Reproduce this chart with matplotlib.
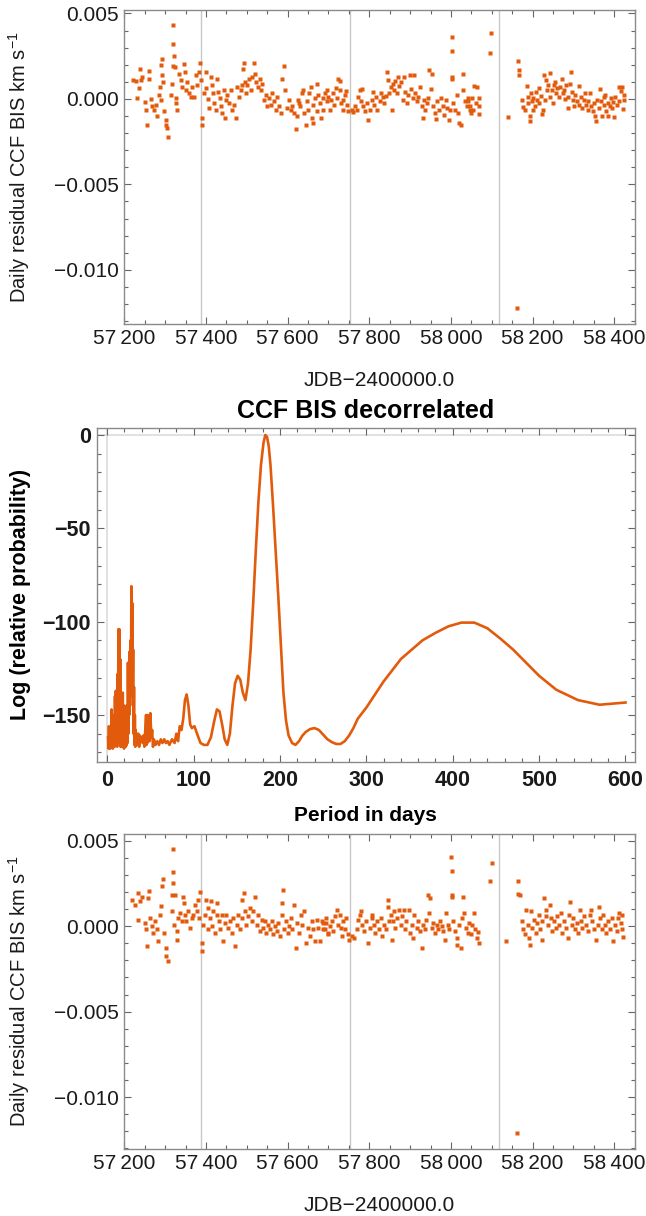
import numpy as np
import matplotlib
matplotlib.use('Agg')
import matplotlib.pyplot as plt
from matplotlib.ticker import MultipleLocator, FixedLocator, FuncFormatter

plt.rcParams['font.family'] = ['Liberation Sans', 'DejaVu Sans']
plt.rcParams['mathtext.default'] = 'regular'

ORANGE = '#E25B0C'

# yearly reference lines (JDB-2400000)
year_marks = [57387, 57752, 58117]

# top panel: daily residual CCF BIS (day, value in 1e-3 km/s)
top_pts = [
    (57221, 1.13), (57228, 1.06), (57237, 1.77), (57240, 1.13), (57236, 0.62), (57232, 0.04),
    (57242, 1.29), (57260, 1.63), (57260, 1.17), (57250, -0.21), (57252, -0.63), (57256, -1.5),
    (57264, -0.02), (57267, -0.44), (57272, -0.63), (57277, -0.35), (57281, -1.02), (57285, 0.23),
    (57289, -0.06), (57286, 0.71), (57289, 1.96), (57293, 2.35), (57291, 1.38), (57295, 1.0),
    (57297, -0.73), (57301, -1.21), (57305, -1.69), (57308, -2.21), (57303, -1.5), (57320, 4.33),
    (57320, 3.21), (57321, 2.5), (57319, 1.9), (57324, 1.87), (57313, 0.23), (57317, 0.9),
    (57326, 0.04), (57327, -0.25), (57330, -0.63), (57334, 1.48), (57338, 1.1), (57342, 0.71),
    (57346, 2.06), (57348, 1.58), (57350, 0.52), (57354, 1.0), (57358, 0.33), (57362, 0.1),
    (57366, 0.71), (57370, 0.13), (57375, 1.38), (57379, 0.81), (57384, 2.1), (57383, 1.58),
    (57387, 1.1), (57391, -1.12), (57391, -1.5), (57395, 0.33), (57399, 1.58), (57401, 0.62),
    (57406, -0.02), (57407, -0.54), (57411, 1.29), (57414, 0.81), (57417, 0.33), (57420, -0.25),
    (57424, -0.63), (57428, 1.19), (57430, 0.42), (57433, 0.04), (57436, -0.44), (57440, -0.83),
    (57444, 0.52), (57446, -1.12), (57448, -0.06), (57452, 0.23), (57456, -0.25), (57460, 0.52),
    (57464, -0.63), (57469, -0.35), (57473, -1.12), (57477, 0.71), (57481, 0.13), (57485, 0.52),
    (57489, 0.81), (57491, 1.77), (57493, 2.1), (57495, 1.0), (57499, 0.33), (57501, 0.81),
    (57505, 1.19), (57509, 0.52), (57513, 1.29), (57518, 2.1), (57520, 1.48), (57523, 1.0),
    (57528, 0.71), (57531, 1.19), (57534, 0.52), (57538, 0.9), (57542, -0.06), (57546, 0.23),
    (57550, -0.44), (57554, 0.04), (57558, -0.35), (57562, 0.33), (57567, -0.15), (57571, -0.63),
    (57575, 0.13), (57579, -0.44), (57583, -0.83), (57587, 1.19), (57591, 1.9), (57594, 0.52),
    (57599, -0.54), (57603, -0.06), (57607, -0.63), (57611, -0.44), (57616, -0.83), (57620, -1.79),
    (57624, -1.02), (57628, -0.25),
    (57626, -0.06), (57630, -0.44), (57634, 0.33), (57638, 0.52), (57640, -0.83), (57645, -1.5),
    (57647, -0.15), (57651, -0.63), (57653, 0.37), (57656, 0.67), (57659, -1.12), (57661, -1.4),
    (57663, -0.35), (57667, 0.04), (57671, 0.9), (57673, -0.73), (57675, 0.23), (57679, -0.25),
    (57681, -1.12), (57686, 0.04), (57687, -0.63), (57691, 0.33), (57696, -0.15), (57697, 0.52),
    (57700, 0.13), (57704, -0.63), (57706, -0.06), (57710, 0.33), (57714, -0.35), (57718, 0.62),
    (57720, 0.04), (57724, 1.15), (57728, 1.06), (57727, 0.52), (57731, -0.25), (57735, -0.63),
    (57736, -0.06), (57740, 0.23), (57743, 0.48), (57745, -0.35), (57749, -0.73), (57757, -0.63),
    (57761, -0.79), (57765, -0.44), (57769, -0.63), (57773, 0.13), (57776, 0.52), (57779, -0.15),
    (57782, 0.56), (57785, -0.44), (57789, -0.73), (57794, -0.25), (57798, -1.21), (57802, -0.63),
    (57806, -0.06), (57810, 0.42), (57812, -0.35), (57816, 0.13), (57820, -0.63), (57825, -0.15),
    (57828, 0.33), (57833, 0.13), (57836, -0.25), (57841, 0.17), (57844, 1.58), (57847, 1.1),
    (57849, 0.37), (57852, 0.71), (57855, -0.63), (57857, 0.87), (57861, 0.52), (57863, 1.06),
    (57867, 0.33), (57871, 1.29), (57874, 0.75), (57877, 1.0), (57882, -0.06), (57885, 1.29),
    (57888, 0.42), (57892, -0.25), (57896, 0.23), (57900, 1.38), (57902, 0.56), (57906, 0.04),
    (57910, 1.38), (57912, 0.37), (57916, -0.15), (57920, 0.13), (57924, 0.67), (57928, -0.44),
    (57931, -1.12), (57934, -0.06), (57937, -0.63), (57941, -0.25), (57945, 0.04), (57947, 1.67),
    (57950, 0.56), (57953, 1.48), (57957, -0.44), (57961, -0.83), (57964, -1.17), (57967, -0.15),
    (57972, -0.63), (57975, 0.04), (57980, -0.44), (57983, -0.92), (57988, -0.06), (57991, -0.54),
    (57995, -1.21), (57998, -0.63), (58002, 3.63), (58002, 2.79), (58002, 1.29), (58002, 1.19),
    (58006, -0.25), (58010, -0.63), (58014, 0.23), (58018, -0.83), (58021, -1.4), (58024, -1.5),
    (58029, 1.48), (58030, 0.52), (58035, -0.15), (58039, -0.44), (58043, 0.04), (58047, -0.63),
    (58043, -0.15), (58047, -0.44), (58049, -0.83), (58051, 0.04), (58055, -0.63), (58057, 0.75),
    (58064, 0.67), (58068, 0.04), (58070, -0.44), (58068, -0.87), (58062, -0.25),
    (58098, 3.83), (58095, 2.71), (58139, -1.08), (58161, -12.21),
    (58164, 2.19), (58166, 1.67), (58167, 1.37), (58174, -0.06), (58176, -0.48), (58182, -0.63),
    (58186, 0.75), (58188, 0.1), (58190, -0.25), (58193, -1.02), (58194, -1.31), (58196, 0.33),
    (58198, -0.15), (58201, -0.63), (58202, 0.04), (58206, -0.44), (58209, 0.42), (58212, -0.06),
    (58215, -0.25), (58217, 0.62), (58220, 0.17), (58223, -0.87), (58225, -0.63), (58229, 1.38),
    (58231, -0.06), (58233, 1.1), (58235, 0.52), (58239, 0.81), (58242, 1.52), (58243, 0.13),
    (58247, 0.52), (58250, -0.25), (58253, 0.81), (58256, 1.0), (58258, 0.37), (58261, 0.62),
    (58264, 0.1), (58268, 0.71), (58272, 1.19), (58274, 0.33), (58276, 0.52), (58280, -0.02),
    (58282, 0.81), (58286, -0.54), (58288, 0.13), (58292, 0.87), (58295, 1.58), (58297, 0.42),
    (58300, -0.06), (58302, -0.44), (58305, 0.23), (58309, -0.15), (58313, -0.35), (58315, 0.75),
    (58318, 0.1), (58321, -0.54), (58325, -0.06), (58329, 0.33), (58331, -0.35), (58335, -0.63),
    (58337, -0.15), (58341, 0.33), (58343, -0.44), (58348, -0.73), (58351, -0.25), (58354, -1.02),
    (58356, -1.31), (58359, -0.06), (58363, -0.54), (58366, 0.56), (58368, -0.15), (58370, -1.02),
    (58374, 0.13), (58376, -0.35), (58378, 0.23), (58380, -0.73), (58384, -0.25), (58386, -1.02),
    (58389, -0.44), (58392, 0.04), (58394, -0.54), (58398, -0.21), (58400, -1.06), (58403, 0.13),
    (58407, -0.35), (58411, -0.1), (58413, 0.71), (58416, 0.48), (58419, 0.67), (58421, -0.6),
    (58423, -0.06), (58423, 0.23),
]

# bottom panel: same after decorrelation (day, value in 1e-3 km/s)
bot_pts = [
    (57219, 1.55), (57226, 1.26), (57234, 1.94), (57238, 1.45), (57234, 0.39), (57242, 1.74),
    (57260, 2.07), (57258, 1.65), (57250, 0.19), (57254, -0.19), (57256, -1.16), (57263, 0.48),
    (57267, 0.0), (57271, -0.39), (57275, 0.29), (57279, -0.19), (57283, -0.87), (57287, 0.68),
    (57290, 1.16), (57293, 2.33), (57295, 2.77), (57298, -0.39), (57301, -1.26), (57303, -1.74),
    (57306, -2.03), (57320, 4.52), (57320, 3.16), (57320, 2.52), (57317, 1.84), (57324, 1.84),
    (57316, 0.87), (57322, 0.1), (57328, -0.29), (57330, -0.78), (57332, 0.48), (57336, 0.78),
    (57340, 0.29), (57344, 1.74), (57347, 1.36), (57348, 0.68), (57352, 0.29), (57356, 0.87),
    (57361, -0.1), (57365, 0.48), (57369, 0.68), (57373, 1.26), (57377, 0.87), (57381, 1.55),
    (57385, 2.03), (57383, 0.48), (57389, -0.97), (57391, -1.45), (57393, 0.1), (57397, 0.68),
    (57399, 1.55), (57404, -0.19), (57406, 1.07), (57410, 0.48), (57412, 1.45), (57415, 0.0),
    (57418, 0.87), (57422, -0.39), (57426, 0.68), (57428, 1.36), (57432, 0.29), (57434, -0.19),
    (57438, 0.68), (57442, -0.87), (57446, 0.19), (57450, 0.68), (57455, -0.1), (57459, 0.29),
    (57463, -0.39), (57467, 0.48), (57471, -1.16), (57475, 0.1), (57479, 0.68), (57483, -0.19),
    (57487, 0.48), (57489, 1.55), (57494, 1.94), (57495, 0.87), (57499, 0.1), (57504, 0.58),
    (57508, 1.07), (57512, 0.29), (57516, 0.87), (57520, 1.74), (57524, 0.1), (57528, 0.68),
    (57532, -0.29), (57536, 0.39), (57540, -0.1), (57544, 0.29), (57548, -0.39), (57553, 0.1),
    (57557, -0.19), (57561, 0.29), (57565, -0.48), (57569, 0.0), (57573, -0.29), (57577, 0.19),
    (57581, -0.58), (57585, 1.36), (57589, 2.13), (57587, 0.68), (57592, -0.19), (57595, 0.29),
    (57600, -0.39), (57603, 0.0), (57608, 0.48), (57611, -0.19), (57616, 1.26), (57620, -1.26),
    (57624, 0.19), (57628, -0.39), (57633, 0.68), (57636, 0.1), (57641, 0.87), (57644, -0.97),
    (57649, -0.1), (57655, -0.58), (57659, 0.29), (57663, -0.19), (57667, -0.87), (57671, 0.39),
    (57675, -0.1), (57679, -0.87), (57683, 0.29), (57687, -0.19), (57693, 0.19), (57700, -0.39),
    (57687, 0.19), (57691, -0.19), (57695, 0.48), (57699, -0.48), (57703, 0.0), (57708, 0.29),
    (57712, -0.29), (57717, 0.58), (57722, 0.97), (57724, 0.1), (57728, 0.68), (57730, -0.1),
    (57734, -0.58), (57736, 0.29), (57740, -0.19), (57742, 0.48), (57747, -0.48), (57750, -0.78),
    (57758, -0.58), (57763, -0.68), (57769, -0.19), (57773, 0.39), (57777, 0.68), (57779, 0.87),
    (57783, 0.1), (57788, -0.29), (57793, 0.29), (57797, -0.97), (57801, -0.1), (57806, 0.48),
    (57807, 0.68), (57812, 0.1), (57815, -0.39), (57820, 0.29), (57824, -0.19), (57828, 0.48),
    (57832, -0.58), (57837, 0.1), (57840, -0.19), (57845, 1.55), (57846, 1.1), (57848, 0.29),
    (57853, 0.68), (57855, -0.78), (57859, 0.29), (57861, 0.87), (57864, -0.1), (57869, 0.48),
    (57873, 0.97), (57877, 0.1), (57881, 0.58), (57886, 0.97), (57887, -0.19), (57891, 0.29),
    (57897, 0.97), (57899, -0.39), (57904, 0.1), (57908, -0.68), (57910, 0.68), (57916, -0.1),
    (57920, 0.29), (57924, -0.29), (57928, -1.26), (57932, 0.1), (57936, -0.19), (57940, 0.39),
    (57944, 1.84), (57949, 1.65), (57946, 0.78), (57953, -0.1), (57957, 0.19), (57961, -0.39),
    (57965, 0.1), (57969, -0.19), (57973, 0.29), (57977, 0.0), (57981, -0.29), (57985, -0.78),
    (57987, 0.78), (57992, 0.1), (57995, -0.19), (58000, 4.07), (58002, 3.24), (58002, 1.84),
    (58003, 1.74), (58006, 0.29), (58010, -0.29), (58014, -0.68), (58016, -1.07), (58020, 0.1),
    (58024, -1.26), (58026, 0.48), (58030, 1.69), (58033, 0.78), (58036, -0.1), (58041, -0.39),
    (58044, 0.19), (58049, -0.48), (58052, 0.1), (58057, 0.78), (58060, -0.19), (58063, -0.68),
    (58067, -0.33), (58069, -0.97), (58096, 2.66), (58100, 3.68), (58136, -0.87), (58161, -12.1),
    (58165, 2.66), (58165, 1.88), (58169, 1.8), (58173, 0.29), (58177, -0.19), (58181, -0.48),
    (58185, 0.97), (58188, 0.1), (58191, -0.68), (58194, -1.07), (58196, 0.87), (58199, -0.1),
    (58204, 0.39), (58208, -0.39), (58212, 0.19), (58216, 0.68), (58218, -0.19), (58222, -0.78),
    (58224, 0.29), (58229, 1.65), (58232, 0.58), (58234, 0.97), (58239, 0.1), (58243, 1.22),
    (58245, 0.48), (58248, -0.29), (58253, 0.29), (58257, -0.1), (58261, 0.58), (58265, 0.1),
    (58270, 0.78), (58273, -0.39), (58278, 0.29), (58281, -0.1), (58286, -0.68), (58289, 0.68),
    (58292, 1.41), (58296, 0.1), (58300, 0.48), (58304, -0.19), (58308, 0.19), (58312, -0.39),
    (58316, 0.97), (58319, 0.29), (58322, -0.1), (58327, 0.58), (58330, 0.1), (58335, -0.29),
    (58341, 0.68), (58343, 0.97), (58346, 0.29), (58351, -0.19), (58355, -0.78), (58360, 0.1),
    (58363, 1.1), (58365, 0.48), (58369, -0.19), (58373, 0.68), (58377, 0.1), (58381, -0.39),
    (58386, 0.29), (58390, -0.19), (58394, 0.48), (58398, -0.87), (58402, 0.1), (58406, -0.29),
    (58410, 0.48), (58413, 0.78), (58417, 0.19), (58418, -0.19), (58420, 0.68), (58422, -0.64),
]

# middle panel: periodogram (period in days, log relative probability)
periodogram = [
    (1, -162), (1.5, -168), (2, -156), (2.5, -167), (3, -160), (3.5, -168), (4, -158), (4.5, -166),
    (5, -147), (5.5, -167), (6, -160), (6.5, -168), (7, -155), (7.5, -166), (8, -150), (8.5, -167),
    (9, -140), (9.5, -165), (10, -137), (10.5, -166), (11, -145), (11.5, -167), (12, -128),
    (12.5, -160), (13, -104), (13.5, -150), (14, -104), (14.5, -165), (15, -120), (15.5, -167),
    (16, -140), (16.5, -166), (17, -150), (17.5, -167), (18, -138), (18.5, -166), (19, -155),
    (19.5, -168), (20, -145), (20.5, -166), (21, -152), (21.5, -167), (22, -158), (22.5, -166),
    (23, -145), (23.5, -165), (24, -122), (24.5, -160), (25, -124), (25.5, -150), (26, -116),
    (26.5, -145), (27, -110), (27.5, -135), (28, -81), (28.5, -120), (29, -90), (29.5, -140),
    (30, -115), (30.5, -160), (31, -135), (31.5, -166), (32, -150), (32.5, -167), (33, -158),
    (33.5, -166), (34, -160), (35, -166), (36, -160), (37, -167), (38, -161), (39, -164),
    (40, -162), (41, -165), (42, -161), (43, -167), (44, -158), (45, -150), (45.5, -166),
    (46, -155), (46.5, -165), (47, -150), (47.5, -162), (48, -151), (49, -164), (50, -149),
    (51, -162), (52, -158), (53, -167), (54, -163), (56, -166), (58, -164), (60, -166), (62, -163),
    (64, -165), (66, -163), (68, -165), (70, -164), (72, -166), (75, -163), (78, -165), (80, -160),
    (82, -164), (84, -156), (86, -158), (88, -152), (90, -142), (92, -139), (94, -145), (96, -155),
    (98, -157), (101, -156), (104, -160), (108, -165), (112, -166), (116, -166), (120, -162),
    (124, -153), (127, -147), (130, -148), (133, -155), (136, -163), (139, -166), (142, -160),
    (145, -145), (148, -133), (151, -129), (154, -131), (157, -138), (160, -142), (163, -133),
    (166, -115), (169, -90), (172, -62), (175, -36), (178, -16), (181, -4), (183, 0), (185, -1),
    (187, -6), (189, -16), (192, -38), (195, -62), (198, -86), (201, -112), (204, -138),
    (207, -153), (210, -161), (214, -165), (218, -166), (222, -164), (226, -161), (230, -159),
    (235, -157.5), (240, -157), (245, -158), (250, -160.5), (255, -163), (260, -164.5),
    (265, -165.5), (270, -165.5), (275, -164), (280, -161), (285, -157), (290, -152), (300, -146),
    (310, -139), (320, -132), (330, -126), (340, -120), (350, -116), (365, -110), (380, -106),
    (395, -102.5), (410, -100.5), (425, -100.5), (440, -103.5), (455, -109), (470, -115),
    (485, -122), (500, -129), (520, -136.5), (545, -142), (570, -144.5), (600, -143.3),
]

W, H = 646, 1216
fig = plt.figure(figsize=(W / 100, H / 100), dpi=100)


def px_axes(left, top, right, bottom):
    return fig.add_axes([left / W, 1 - bottom / H, (right - left) / W, (bottom - top) / H])


def frame(ax):
    for s in ax.spines.values():
        s.set_color('#8a8a8a')
        s.set_linewidth(1.0)
    ax.tick_params(which='both', direction='in', top=True, right=True, color='#666666',
                   labelcolor='#1a1a1a')
    ax.tick_params(axis='x', pad=3.5)
    ax.tick_params(axis='y', pad=4)
    ax.tick_params(which='major', length=5, width=0.8)
    ax.tick_params(which='minor', length=3, width=0.8)


def minus(fmt):
    return FuncFormatter(lambda v, p: (fmt % v).replace('-', '\u2212'))


def scatter_panel(ax, pts):
    day = np.array([p[0] for p in pts])
    val = np.array([p[1] for p in pts]) * 1e-3
    for x in year_marks:
        ax.axvline(x, color='#c8c8c8', lw=1.0, zorder=0)
    ax.plot(day, val, 's', color=ORANGE, ms=2.6, mec='none', zorder=2)
    ax.set_xlim(57199, 58451)
    ax.xaxis.set_major_locator(MultipleLocator(200))
    ax.xaxis.set_minor_locator(MultipleLocator(50))
    ax.xaxis.set_major_formatter(FuncFormatter(lambda v, p: '%d\u2009%03d' % (int(v) // 1000, int(v) % 1000)))
    ax.yaxis.set_major_locator(FixedLocator([0.005, 0.0, -0.005, -0.010]))
    ax.yaxis.set_minor_locator(MultipleLocator(0.001))
    ax.yaxis.set_major_formatter(minus('%.3f'))
    frame(ax)
    ax.tick_params(labelsize=15)
    ax.set_xlabel('JDB\u22122400000.0', fontsize=15, color='#1a1a1a', labelpad=17)
    ax.set_ylabel('Daily residual CCF BIS km s$^{\u22121}$', fontsize=14.5, color='#1a1a1a')
    ax.yaxis.set_label_coords(-0.18, 0.5)


ax1 = px_axes(124, 10, 635, 324)
scatter_panel(ax1, top_pts)
ax1.set_ylim(-0.01317, 0.0052)

ax3 = px_axes(124, 834, 635, 1149)
scatter_panel(ax3, bot_pts)
ax3.set_ylim(-0.01304, 0.0054)

# periodogram
ax2 = px_axes(96.5, 427.7, 635, 761.7)
per = [p[0] for p in periodogram]
lp = [p[1] for p in periodogram]
ax2.axhline(0, color='#dcdcdc', lw=1.2, zorder=0)
ax2.axvline(0, color='#dcdcdc', lw=1.2, zorder=0)
ax2.plot(per, lp, color=ORANGE, lw=1.9, solid_joinstyle='round')
ax2.set_xlim(-12.4, 611)
ax2.set_ylim(-175, 3.9)
ax2.xaxis.set_major_locator(MultipleLocator(100))
ax2.xaxis.set_minor_locator(MultipleLocator(20))
ax2.yaxis.set_major_locator(MultipleLocator(50))
ax2.yaxis.set_minor_locator(MultipleLocator(10))
ax2.yaxis.set_major_formatter(minus('%d'))
frame(ax2)
ax2.tick_params(labelsize=15.5)
ax2.tick_params(axis='x', pad=6)
for lab in ax2.get_xticklabels() + ax2.get_yticklabels():
    lab.set_fontweight('bold')
ax2.set_title('CCF BIS decorrelated', fontsize=18, fontweight='bold', pad=7)
ax2.set_xlabel('Period in days', fontsize=15, fontweight='bold', labelpad=11)
ax2.set_ylabel('Log (relative probability)', fontsize=15.5, fontweight='bold')
ax2.yaxis.set_label_coords(-0.121, 0.5)

fig.savefig('out.png', dpi=100)
